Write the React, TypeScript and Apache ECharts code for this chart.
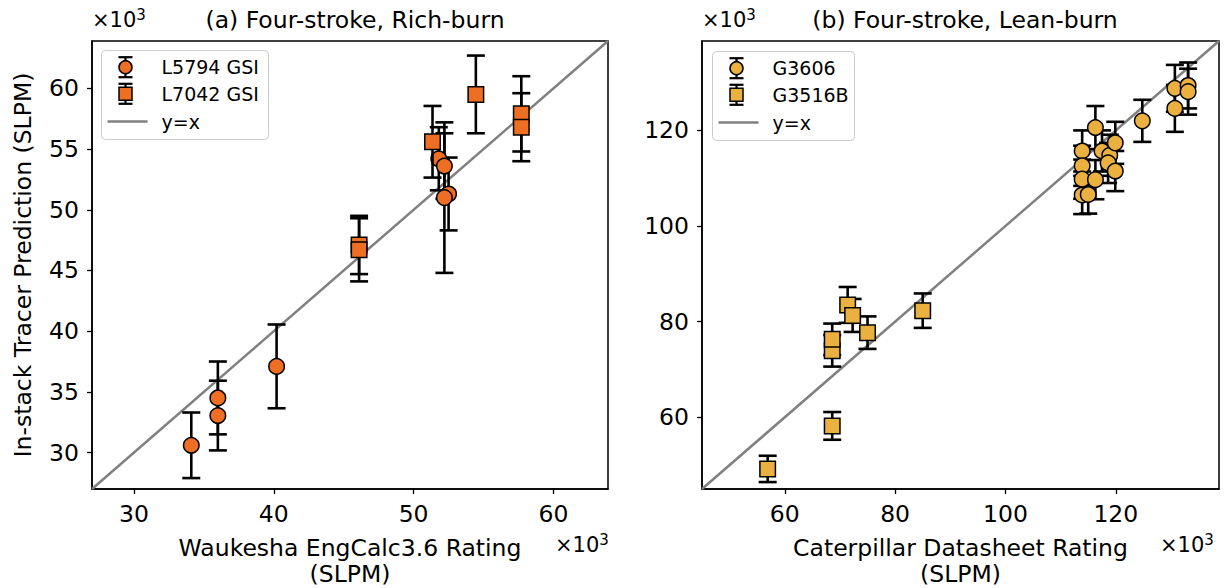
import React, { useEffect, useRef } from "react";
import * as echarts from "echarts";

// ---------- Data (values in thousands of SLPM) ----------
// (a) Four-stroke, Rich-burn
const l5794X = [34.1, 36.0, 36.0, 40.2, 51.8, 52.2, 52.5, 52.2];
const l5794Y = [30.6, 34.5, 33.05, 37.1, 54.2, 53.6, 51.3, 51.0];
const l5794Err = [2.7, 3.0, 2.87, 3.45, 2.6, 2.7, 3.0, 6.2];

const l7042X = [46.1, 46.1, 51.35, 54.45, 57.7, 57.7];
const l7042Y = [47.1, 46.7, 55.6, 59.5, 57.9, 56.8];
const l7042Err = [2.4, 2.6, 2.95, 3.2, 3.1, 2.8];

// (b) Four-stroke, Lean-burn
const g3606X = [113.9, 113.9, 113.9, 113.9, 115.0, 116.3, 116.3, 117.5, 118.9, 118.6, 119.9, 119.9, 124.8, 130.7, 130.7, 133.1, 133.1];
const g3606Y = [115.7, 112.6, 109.8, 106.5, 106.6, 109.7, 120.6, 115.7, 114.8, 113.2, 117.4, 111.5, 122.0, 128.8, 124.6, 129.4, 128.1];
const g3606Err = [4.3, 4.2, 4.1, 4.0, 4.0, 4.1, 4.5, 4.3, 4.3, 4.2, 4.4, 4.2, 4.4, 4.9, 4.9, 4.8, 4.8];

const g3516X = [56.9, 68.6, 68.6, 68.6, 71.4, 72.3, 75.0, 85.0];
const g3516Y = [49.2, 58.2, 73.9, 76.3, 83.5, 81.3, 77.7, 82.3];
const g3516Err = [2.75, 2.9, 3.3, 3.3, 3.75, 3.45, 3.4, 3.6];

const leftLimits = [27, 63.9];
const rightLimits = [45, 138.7];
const leftXTicks = [30, 40, 50, 60];
const leftYTicks = [30, 35, 40, 45, 50, 55, 60];
const rightXTicks = [60, 80, 100, 120];
const rightYTicks = [60, 80, 100, 120];

const ORANGE = "#EE6E24";
const GOLD = "#EBB140";
const FONT = "DejaVu Sans";
const FS = 23.5;

function pts(xs: number[], ys: number[]) {
  return xs.map((x, i) => [x, ys[i]]);
}
function errs(xs: number[], ys: number[], es: number[]) {
  return xs.map((x, i) => [x, ys[i], ys[i] - es[i], ys[i] + es[i]]);
}

function errRender(params: any, api: any) {
  const x = api.value(0);
  const lo = api.value(2);
  const hi = api.value(3);
  const top = api.coord([x, hi]);
  const bot = api.coord([x, lo]);
  const cap = 9;
  const style = { stroke: "#000", lineWidth: 2.6, fill: null };
  return {
    type: "group",
    children: [
      { type: "line", shape: { x1: top[0], y1: top[1], x2: bot[0], y2: bot[1] }, style },
      { type: "line", shape: { x1: top[0] - cap, y1: top[1], x2: top[0] + cap, y2: top[1] }, style },
      { type: "line", shape: { x1: bot[0] - cap, y1: bot[1], x2: bot[0] + cap, y2: bot[1] }, style },
    ],
  };
}

function legendGraphic(left: number, top: number, width: number, color: string, names: string[]) {
  const mx = 24; // marker center offset
  const tx = 60;
  const rows = [16.7, 43.3, 71];
  const lineStyle = { stroke: "#000", lineWidth: 2.2 };
  const children: any[] = [
    { type: "rect", shape: { x: 0, y: 0, width, height: 89, r: 4 }, style: { fill: "rgba(255,255,255,0.8)", stroke: "#cccccc", lineWidth: 1 } },
  ];
  rows.slice(0, 2).forEach((ry, i) => {
    children.push({ type: "line", shape: { x1: mx, y1: ry - 10, x2: mx, y2: ry + 10 }, style: lineStyle });
    children.push({ type: "line", shape: { x1: mx - 7, y1: ry - 10, x2: mx + 7, y2: ry - 10 }, style: lineStyle });
    children.push({ type: "line", shape: { x1: mx - 7, y1: ry + 10, x2: mx + 7, y2: ry + 10 }, style: lineStyle });
    if (i === 0) {
      children.push({ type: "circle", shape: { cx: mx, cy: ry, r: 6.5 }, style: { fill: color, stroke: "#000", lineWidth: 1.5 } });
    } else {
      children.push({ type: "rect", shape: { x: mx - 6.5, y: ry - 6.5, width: 13, height: 13 }, style: { fill: color, stroke: "#000", lineWidth: 1.5 } });
    }
    children.push({ type: "text", x: tx, y: ry, style: { text: names[i], font: `19px '${FONT}'`, fill: "#000", verticalAlign: "middle", align: "left" } });
  });
  children.push({ type: "line", shape: { x1: 6, y1: rows[2], x2: 46, y2: rows[2] }, style: { stroke: "#808080", lineWidth: 2.5 } });
  children.push({ type: "text", x: tx, y: rows[2], style: { text: "y=x", font: `19px '${FONT}'`, fill: "#000", verticalAlign: "middle", align: "left" } });
  return { type: "group", left, top, z: 100, children };
}

function offsetText(x: number, y: number) {
  return {
    type: "text",
    x,
    y,
    z: 100,
    style: {
      text: "×10{s|3}",
      font: `21px '${FONT}'`,
      fill: "#000",
      verticalAlign: "middle",
      rich: { s: { fontSize: 15, fontFamily: FONT, verticalAlign: "top", padding: [0, 0, 11, 0] } },
    },
  };
}

function axisCommon(ticks: number[]) {
  return {
    axisLine: { show: true, lineStyle: { color: "#000", width: 1.5 } },
    axisTick: { show: true, length: 5, lineStyle: { color: "#000", width: 1.3 }, customValues: ticks },
    axisLabel: { color: "#000", fontSize: FS, fontFamily: FONT, margin: 13, customValues: ticks },
    splitLine: { show: false },
  };
}

export default function App() {
  const ref = useRef<HTMLDivElement>(null);
  useEffect(() => {
    if (!ref.current) return;
    const chart = echarts.init(ref.current, null, { renderer: "svg" });
    const gridStyle = { show: true, borderColor: "#000", borderWidth: 1.5, backgroundColor: "#fff", containLabel: false, outerBoundsMode: "none" };
    const nameStyle = { fontSize: FS, fontFamily: FONT, color: "#000", lineHeight: 26 };
    const option: any = {
      animation: false,
      backgroundColor: "#fff",
      textStyle: { fontFamily: FONT },
      title: [
        { text: "(a) Four-stroke, Rich-burn", left: 350, top: 3, textAlign: "center", textStyle: { fontSize: FS, fontWeight: "normal", color: "#000", fontFamily: FONT } },
        { text: "(b) Four-stroke, Lean-burn", left: 960, top: 3, textAlign: "center", textStyle: { fontSize: FS, fontWeight: "normal", color: "#000", fontFamily: FONT } },
      ],
      grid: [
        { left: 92, top: 41, width: 516, height: 448, ...gridStyle },
        { left: 702, top: 41, width: 517, height: 448, ...gridStyle },
      ],
      xAxis: [
        {
          type: "value", gridIndex: 0, min: leftLimits[0], max: leftLimits[1], ...axisCommon(leftXTicks),
          name: "Waukesha EngCalc3.6 Rating\n(SLPM)", nameLocation: "middle", nameGap: 46, nameTextStyle: nameStyle,
        },
        {
          type: "value", gridIndex: 1, min: rightLimits[0], max: rightLimits[1], ...axisCommon(rightXTicks),
          name: "Caterpillar Datasheet Rating\n(SLPM)", nameLocation: "middle", nameGap: 46, nameTextStyle: nameStyle,
        },
      ],
      yAxis: [
        {
          type: "value", gridIndex: 0, min: leftLimits[0], max: leftLimits[1], ...axisCommon(leftYTicks),
          name: "In-stack Tracer Prediction (SLPM)", nameLocation: "middle", nameGap: 57,
          nameTextStyle: { fontSize: FS, fontFamily: FONT, color: "#000" },
        },
        {
          type: "value", gridIndex: 1, min: rightLimits[0], max: rightLimits[1], ...axisCommon(rightYTicks),
        },
      ],
      series: [
        { type: "line", xAxisIndex: 0, yAxisIndex: 0, data: [[leftLimits[0], leftLimits[0]], [leftLimits[1], leftLimits[1]]], symbol: "none", lineStyle: { color: "#808080", width: 2.5 }, z: 1, silent: true },
        { type: "custom", xAxisIndex: 0, yAxisIndex: 0, renderItem: errRender, data: errs(l5794X, l5794Y, l5794Err), encode: { x: 0, y: 1 }, z: 2 },
        { type: "scatter", name: "L5794 GSI", xAxisIndex: 0, yAxisIndex: 0, data: pts(l5794X, l5794Y), symbol: "circle", symbolSize: 15.5, itemStyle: { color: ORANGE, borderColor: "#000", borderWidth: 1.5, opacity: 1 }, z: 3 },
        { type: "custom", xAxisIndex: 0, yAxisIndex: 0, renderItem: errRender, data: errs(l7042X, l7042Y, l7042Err), encode: { x: 0, y: 1 }, z: 4 },
        { type: "scatter", name: "L7042 GSI", xAxisIndex: 0, yAxisIndex: 0, data: pts(l7042X, l7042Y), symbol: "rect", symbolSize: 15.5, itemStyle: { color: ORANGE, borderColor: "#000", borderWidth: 1.5, opacity: 1 }, z: 5 },

        { type: "line", xAxisIndex: 1, yAxisIndex: 1, data: [[rightLimits[0], rightLimits[0]], [rightLimits[1], rightLimits[1]]], symbol: "none", lineStyle: { color: "#808080", width: 2.5 }, z: 1, silent: true },
        { type: "custom", xAxisIndex: 1, yAxisIndex: 1, renderItem: errRender, data: errs(g3606X, g3606Y, g3606Err), encode: { x: 0, y: 1 }, z: 2 },
        { type: "scatter", name: "G3606", xAxisIndex: 1, yAxisIndex: 1, data: pts(g3606X, g3606Y), symbol: "circle", symbolSize: 15.5, itemStyle: { color: GOLD, borderColor: "#000", borderWidth: 1.5, opacity: 1 }, z: 3 },
        { type: "custom", xAxisIndex: 1, yAxisIndex: 1, renderItem: errRender, data: errs(g3516X, g3516Y, g3516Err), encode: { x: 0, y: 1 }, z: 4 },
        { type: "scatter", name: "G3516B", xAxisIndex: 1, yAxisIndex: 1, data: pts(g3516X, g3516Y), symbol: "rect", symbolSize: 15.5, itemStyle: { color: GOLD, borderColor: "#000", borderWidth: 1.5, opacity: 1 }, z: 5 },
      ],
      graphic: [
        legendGraphic(101, 50, 167, ORANGE, ["L5794 GSI", "L7042 GSI"]),
        legendGraphic(712, 51, 142, GOLD, ["G3606", "G3516B"]),
        offsetText(92, 20),
        offsetText(702, 20),
        offsetText(555, 545),
        offsetText(1160, 545),
      ],
    };
    chart.setOption(option);
    return () => chart.dispose();
  }, []);
  return <div ref={ref} style={{ width: 1225, height: 588, position: "absolute", left: 0, top: 0 }} />;
}
